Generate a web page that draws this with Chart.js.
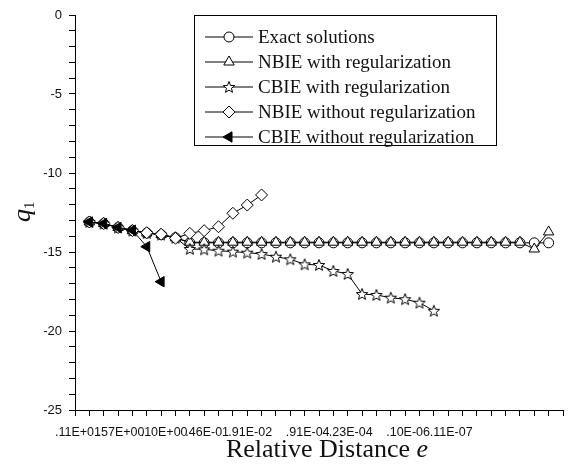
<!DOCTYPE html>
<html>
<head>
<meta charset="utf-8">
<script src="https://cdn.jsdelivr.net/npm/chart.js@4"></script>
<style>
  html, body { margin: 0; padding: 0; background: #fff; }
</style>
</head>
<body>
<canvas id="myChart" width="586" height="470"></canvas>
<script>
// x positions are step numbers along the category-like axis (0..34)
let xLabels = ['.11E+01', '.57E+00', '.10E+00', '.46E-01', '.91E-02', '.91E-04', '.23E-04', '.10E-06', '.11E-07'];
let xLabelAt = [0, 3, 6, 9, 12, 16, 19, 23, 26];

// every series starts at step 1
let exactVals = [-13.1, -13.2, -13.45, -13.65, -13.8, -13.9, -14.1,
  -14.42, -14.42, -14.42, -14.42, -14.42, -14.42, -14.42, -14.42, -14.42, -14.42, -14.42, -14.42,
  -14.42, -14.42, -14.42, -14.42, -14.42, -14.42, -14.42, -14.42, -14.42, -14.42, -14.42, -14.42, -14.42, -14.42];
let nbieRegVals = [-13.1, -13.2, -13.45, -13.65, -13.8, -13.9, -14.1,
  -14.38, -14.38, -14.38, -14.38, -14.38, -14.38, -14.38, -14.38, -14.38, -14.38, -14.38, -14.38,
  -14.38, -14.38, -14.38, -14.38, -14.38, -14.38, -14.38, -14.38, -14.38, -14.38, -14.38, -14.38, -14.81, -13.73];
let cbieRegVals = [-13.1, -13.2, -13.45, -13.65, -13.8, -13.9, -14.1,
  -14.81, -14.83, -14.92, -14.98, -15.04, -15.13, -15.30, -15.46, -15.78, -15.82, -16.20, -16.39,
  -17.66, -17.72, -17.89, -17.99, -18.21, -18.72];
let nbieNoRegVals = [-13.1, -13.2, -13.45, -13.65, -13.78, -13.88, -14.13, -13.82, -13.65, -13.40, -12.55, -12.03, -11.39];
let cbieNoRegVals = [-13.1, -13.2, -13.45, -13.62, -14.66, -16.88];

let seriesNames = ['Exact solutions', 'NBIE with regularization', 'CBIE with regularization',
  'NBIE without regularization', 'CBIE without regularization'];

let toPoints = (vals) => vals.map((v, i) => ({ x: i + 1, y: v }));

// open star marker
let starImg = document.createElement('canvas');
starImg.width = 14; starImg.height = 14;
(() => {
  let c = starImg.getContext('2d');
  c.beginPath();
  for (let k = 0; k < 10; k++) {
    let r = k % 2 === 0 ? 6 : 2.6;
    let a = -Math.PI / 2 + k * Math.PI / 5;
    let px = 7 + r * Math.cos(a), py = 7.5 + r * Math.sin(a);
    if (k === 0) c.moveTo(px, py); else c.lineTo(px, py);
  }
  c.closePath();
  c.fillStyle = '#fff';
  c.fill();
  c.strokeStyle = '#000';
  c.lineWidth = 1;
  c.stroke();
})();

let styles = [
  { pointStyle: 'circle', radius: 5, rotation: 0, fill: '#fff' },
  { pointStyle: 'triangle', radius: 6, rotation: 0, fill: '#fff' },
  { pointStyle: starImg, radius: 6, rotation: 0, fill: '#fff' },
  { pointStyle: 'rectRot', radius: 6, rotation: 0, fill: '#fff' },
  { pointStyle: 'triangle', radius: 6, rotation: -90, fill: '#000' }
];

let allVals = [exactVals, nbieRegVals, cbieRegVals, nbieNoRegVals, cbieNoRegVals];

let datasets = allVals.map((vals, i) => ({
  label: seriesNames[i],
  data: toPoints(vals),
  borderColor: '#000',
  borderWidth: 1,
  backgroundColor: styles[i].fill,
  pointStyle: styles[i].pointStyle,
  pointRadius: styles[i].radius,
  pointRotation: styles[i].rotation,
  pointBackgroundColor: styles[i].fill,
  pointBorderColor: '#000',
  pointBorderWidth: 1,
  showLine: true,
  tension: 0,
  order: 5 - i
}));

let tickFont = '"Liberation Sans", Arial';

// legend box + axis titles
let decorations = {
  id: 'decorations',
  afterDraw(chart) {
    let ctx = chart.ctx;
    ctx.save();
    // legend
    ctx.strokeStyle = '#000';
    ctx.lineWidth = 1;
    ctx.strokeRect(194.5, 15.5, 302, 130);
    ctx.font = '19px "Liberation Serif"';
    ctx.textBaseline = 'middle';
    ctx.textAlign = 'left';
    seriesNames.forEach((name, i) => {
      let y = 37 + i * 25;
      ctx.beginPath();
      ctx.moveTo(205, y);
      ctx.lineTo(253, y);
      ctx.strokeStyle = '#000';
      ctx.stroke();
      ctx.fillStyle = styles[i].fill;
      ctx.strokeStyle = '#000';
      Chart.helpers.drawPoint(ctx, {
        pointStyle: styles[i].pointStyle,
        radius: styles[i].radius,
        rotation: styles[i].rotation,
        borderWidth: 1
      }, 229, y);
      ctx.fillStyle = '#111';
      ctx.fillText(name, 258, y + 1);
    });

    // x title
    ctx.fillStyle = '#111';
    ctx.textBaseline = 'alphabetic';
    ctx.font = '26px "Liberation Serif"';
    let t1 = 'Relative Distance ';
    let w1 = ctx.measureText(t1).width;
    ctx.font = 'italic 26px "Liberation Serif"';
    let w2 = ctx.measureText('e').width;
    let x0 = 327 - (w1 + w2) / 2;
    ctx.font = '26px "Liberation Serif"';
    ctx.fillText(t1, x0, 457);
    ctx.font = 'italic 26px "Liberation Serif"';
    ctx.fillText('e', x0 + w1, 457);

    // y title q1
    ctx.translate(30, 222);
    ctx.rotate(-Math.PI / 2);
    ctx.font = 'italic 26px "Liberation Serif"';
    ctx.fillText('q', 0, 0);
    let wq = ctx.measureText('q').width;
    ctx.font = '15px "Liberation Serif"';
    ctx.fillText('1', wq, 4);
    ctx.restore();
  }
};

let ctx = document.getElementById('myChart').getContext('2d');
let myChart = new Chart(ctx, {
  type: 'scatter',
  data: { datasets: datasets },
  options: {
    responsive: false,
    devicePixelRatio: 1,
    animation: false,
    layout: { padding: { left: 0, top: 15, right: 23, bottom: 0 } },
    plugins: {
      legend: { display: false },
      tooltip: { enabled: false }
    },
    scales: {
      x: {
        type: 'linear',
        min: 0,
        max: 34,
        afterFit: (scale) => { scale.height = 60; },
        afterBuildTicks: (scale) => {
          let t = [];
          for (let i = 0; i <= 34; i++) t.push({ value: i });
          scale.ticks = t;
        },
        grid: { drawOnChartArea: false, drawTicks: true, tickLength: 6, tickColor: '#000', tickWidth: 1 },
        border: { color: '#000', width: 1 },
        ticks: {
          autoSkip: false,
          maxRotation: 0,
          minRotation: 0,
          padding: 9,
          labelOffset: 3,
          color: '#111',
          font: { family: tickFont, size: 12.5 },
          callback: (v) => {
            let k = xLabelAt.indexOf(v);
            return k >= 0 ? xLabels[k] : '';
          }
        }
      },
      y: {
        min: -25,
        max: 0,
        afterFit: (scale) => { scale.width = 75; },
        afterBuildTicks: (scale) => {
          let t = [];
          for (let v = -25; v <= 0; v++) t.push({ value: v });
          scale.ticks = t;
        },
        grid: { drawOnChartArea: false, drawTicks: true, tickLength: 6, tickColor: '#000', tickWidth: 1 },
        border: { color: '#000', width: 1 },
        ticks: {
          autoSkip: false,
          padding: 7,
          color: '#111',
          font: { family: tickFont, size: 13 },
          callback: (v) => (v % 5 === 0 ? String(v) : '')
        }
      }
    }
  },
  plugins: [decorations]
});
</script>
</body>
</html>
